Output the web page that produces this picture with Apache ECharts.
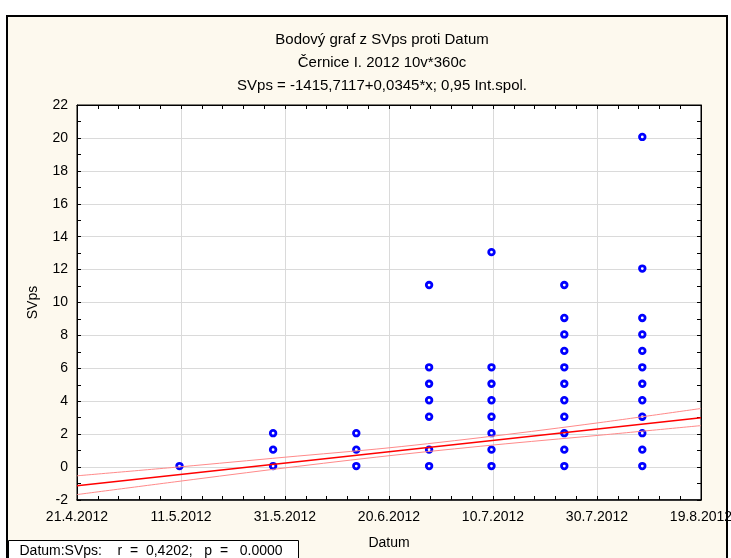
<!DOCTYPE html>
<html>
<head>
<meta charset="utf-8">
<script src="https://cdn.jsdelivr.net/npm/echarts@6/dist/echarts.min.js"></script>
<style>
  html, body { margin: 0; padding: 0; background: #fff; }
  #wrap { position: relative; width: 731px; height: 558px; overflow: hidden; }
  #frame { position: absolute; left: 6px; top: 15px; width: 722px; height: 560px;
           background: #fdf9ee; border: 2px solid #000; box-sizing: border-box; }
  #chart { position: absolute; left: 0; top: 0; width: 731px; height: 558px; }
</style>
</head>
<body>
<div id="wrap">
  <div id="frame"></div>
  <div id="chart"></div>
</div>
<script>
// Sampling dates (d.m.yyyy) and the SVps values recorded on each of them
const sampleDates = ['11.5.2012', '29.5.2012', '14.6.2012', '28.6.2012', '10.7.2012', '24.7.2012', '8.8.2012'];
const svpsByDate = [
  [0],
  [0, 1, 2],
  [0, 1, 2],
  [0, 1, 3, 4, 5, 6, 11],
  [0, 1, 2, 3, 4, 5, 6, 13],
  [0, 1, 2, 3, 4, 5, 6, 7, 8, 9, 11],
  [0, 1, 2, 3, 4, 5, 6, 7, 8, 9, 12, 20]
];

// Date axis tick labels and SVps axis range
const xTickLabels = ['21.4.2012', '11.5.2012', '31.5.2012', '20.6.2012', '10.7.2012', '30.7.2012', '19.8.2012'];
const yMin = -2, yMax = 22, yStep = 2;

// 0,95 confidence band of the fitted line, at the tick dates
const bandUpper = [-0.53, 0.02, 0.60, 1.17, 1.88, 2.68, 3.56];
const bandLower = [-1.67, -0.85, -0.05, 0.69, 1.34, 1.92, 2.52];

// Fitted line SVps = intercept + slope * x  (x = serial day number)
const intercept = -1415.7117;
const slope = 0.034485;
const rValue = 0.4202;
const pValue = 0.0000;

const FONT = '"Liberation Sans", Arial, sans-serif';

function serialDay(s) {
  const [d, m, y] = s.split('.').map(Number);
  return Math.round((Date.UTC(y, m - 1, d) - Date.UTC(1899, 11, 30)) / 86400000);
}
function czNum(v, digits) {
  return v.toFixed(digits).replace('.', ',');
}

const tickDays = xTickLabels.map(serialDay);
const xMin = tickDays[0];
const xMax = tickDays[tickDays.length - 1];
const xStep = tickDays[1] - tickDays[0];

const points = [];
sampleDates.forEach((d, i) => {
  const x = serialDay(d);
  svpsByDate[i].forEach(v => points.push([x, v]));
});

const fitLine = [xMin, xMax].map(x => [x, intercept + slope * x]);
const upperLine = tickDays.map((x, i) => [x, bandUpper[i]]);
const lowerLine = tickDays.map((x, i) => [x, bandLower[i]]);

const titleLines = [
  'Bodový graf z SVps proti Datum',
  'Černice I. 2012 10v*360c',
  'SVps = ' + czNum(intercept, 4) + '+' + czNum(slope, 4) + '*x; 0,95 Int.spol.'
];
const statText = 'Datum:SVps:    r  =  ' + czNum(rValue, 4) + ';   p  =   ' + pValue.toFixed(4);

const chart = echarts.init(document.getElementById('chart'), null, { renderer: 'canvas' });

const tickLabelStyle = { color: '#000', fontSize: 14, fontFamily: FONT };
const tickStyle = { inside: true, length: 4, lineStyle: { color: '#000' } };

chart.setOption({
  animation: false,
  backgroundColor: 'transparent',
  title: titleLines.map((t, i) => ({
    text: t,
    left: 377,
    top: 27 + i * 23,
    textAlign: 'center',
    textStyle: { color: '#000', fontSize: 15, fontWeight: 'normal', fontFamily: FONT }
  })),
  grid: {
    left: 77, top: 105, width: 624, height: 395,
    outerBoundsMode: 'none', containLabel: false,
    show: true, backgroundColor: '#fff', borderColor: '#000', borderWidth: 1
  },
  xAxis: [
    {
      type: 'value', min: xMin, max: xMax, interval: xStep, position: 'bottom',
      name: 'Datum', nameLocation: 'middle', nameGap: 36,
      nameTextStyle: { color: '#000', fontSize: 14, fontFamily: FONT },
      axisLine: { onZero: false, lineStyle: { color: '#000', width: 1.5 } },
      axisTick: tickStyle,
      minorTick: { show: true, splitNumber: 5, length: 4, lineStyle: { color: '#000' } },
      splitLine: { show: true, lineStyle: { color: '#dadada', width: 1 } },
      axisLabel: Object.assign({
        margin: 10, hideOverlap: false,
        formatter: v => { const i = tickDays.indexOf(v); return i >= 0 ? xTickLabels[i] : ''; }
      }, tickLabelStyle)
    },
    {
      type: 'value', min: xMin, max: xMax, interval: xStep, position: 'top',
      axisLine: { onZero: false, lineStyle: { color: '#000', width: 1 } },
      axisTick: tickStyle,
      minorTick: { show: true, splitNumber: 5, length: 4, lineStyle: { color: '#000' } },
      splitLine: { show: false },
      axisLabel: { show: false }
    }
  ],
  yAxis: [
    {
      type: 'value', min: yMin, max: yMax, interval: yStep, position: 'left',
      name: 'SVps', nameLocation: 'middle', nameGap: 37, nameRotate: 90,
      nameTextStyle: { color: '#000', fontSize: 14, fontFamily: FONT },
      axisLine: { show: true, onZero: false, lineStyle: { color: '#000', width: 1 } },
      axisTick: Object.assign({ show: true }, tickStyle),
      minorTick: { show: true, splitNumber: 2, length: 4, lineStyle: { color: '#000' } },
      splitLine: { show: true, lineStyle: { color: '#dadada', width: 1 } },
      axisLabel: Object.assign({ margin: 9 }, tickLabelStyle)
    },
    {
      type: 'value', min: yMin, max: yMax, interval: yStep, position: 'right',
      axisLine: { show: true, onZero: false, lineStyle: { color: '#000', width: 1 } },
      axisTick: Object.assign({ show: true }, tickStyle),
      minorTick: { show: true, splitNumber: 2, length: 4, lineStyle: { color: '#000' } },
      splitLine: { show: false },
      axisLabel: { show: false }
    }
  ],
  series: [
    {
      type: 'scatter', name: 'SVps', data: points, z: 2,
      symbol: 'circle', symbolSize: 5.6, symbolOffset: [-1.5, -1],
      itemStyle: { color: '#fff', borderColor: '#0000ff', borderWidth: 2.8, opacity: 1 }
    },
    {
      type: 'line', name: 'fit', data: fitLine, z: 4, showSymbol: false, symbol: 'none',
      lineStyle: { color: '#ff0000', width: 1.5 }
    },
    {
      type: 'line', name: 'upper', data: upperLine, z: 3, symbol: 'none', smooth: 0.3,
      lineStyle: { color: '#ff8a8a', width: 1 }
    },
    {
      type: 'line', name: 'lower', data: lowerLine, z: 3, symbol: 'none', smooth: 0.3,
      lineStyle: { color: '#ff8a8a', width: 1 }
    }
  ],
  graphic: [
    {
      type: 'group', left: 8, top: 540, z: 100,
      children: [
        { type: 'rect', shape: { x: 0, y: 0, width: 290, height: 30 },
          style: { fill: '#fff', stroke: '#000', lineWidth: 1 } },
        { type: 'text', x: 11, y: 11,
          style: { text: statText, fill: '#000', font: '14px ' + FONT, textVerticalAlign: 'middle' } }
      ]
    }
  ]
});
</script>
</body>
</html>
